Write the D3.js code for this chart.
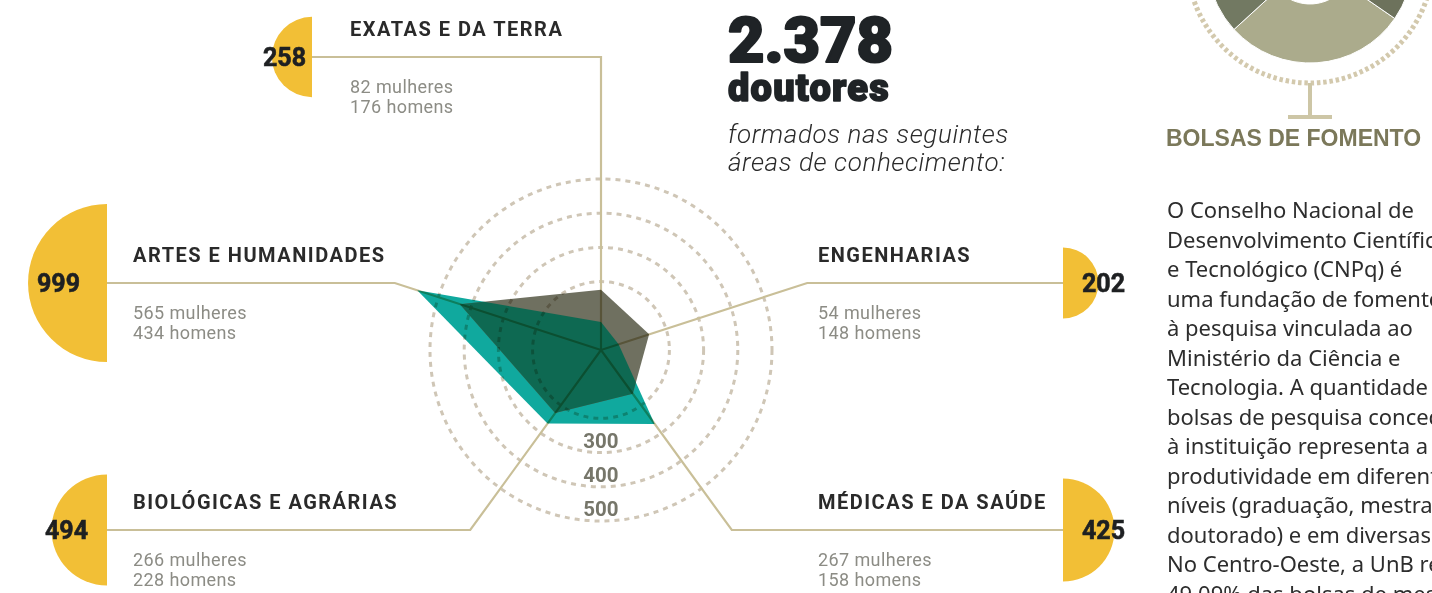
<!DOCTYPE html>
<html>
<head>
<meta charset="utf-8">
<script src="https://cdn.jsdelivr.net/npm/d3@7"></script>
<style>
body { margin: 0; background: #fff; overflow: hidden; }
svg { display: block; isolation: isolate; }
</style>
</head>
<body>
<div id="chart"></div>
<script>
// dados
var areas = ["EXATAS E DA TERRA", "ENGENHARIAS", "MÉDICAS E DA SAÚDE", "BIOLÓGICAS E AGRÁRIAS", "ARTES E HUMANIDADES"];
var mulheres = [82, 54, 267, 266, 565];
var homens = [176, 148, 158, 228, 434];
var totais = [258, 202, 425, 494, 999];
var aneis = [200, 300, 400, 500];
var rotulosAneis = [300, 400, 500];
var totalDoutores = "2.378";
var bolsasFatias = [28.6, 36.4, 35.0];
var textoBolsas = [
    "O Conselho Nacional de",
    "Desenvolvimento Científico",
    "e Tecnológico (CNPq) é",
    "uma fundação de fomento",
    "à pesquisa vinculada ao",
    "Ministério da Ciência e",
    "Tecnologia. A quantidade de",
    "bolsas de pesquisa concedidas",
    "à instituição representa a",
    "produtividade em diferentes",
    "níveis (graduação, mestrado e",
    "doutorado) e em diversas áreas.",
    "No Centro-Oeste, a UnB recebe",
    "49,09% das bolsas de mestrado"
];

var width = 1432, height = 593;
var cx = 601, cy = 350;

// posicao de cada eixo (linha de chamada + semicirculo)
var layout = [
    { elbowY: 57,  endX: 312,  side: "left",  labelX: 350, numX: 306,  numAnchor: "end" },
    { elbowY: 283, endX: 1063, side: "right", labelX: 818, numX: 1082, numAnchor: "start" },
    { elbowY: 530, endX: 1063, side: "right", labelX: 818, numX: 1082, numAnchor: "start" },
    { elbowY: 530, endX: 107,  side: "left",  labelX: 133, numX: 45,   numAnchor: "start" },
    { elbowY: 283, endX: 107,  side: "left",  labelX: 133, numX: 37,   numAnchor: "start" }
];

var svg = d3.select("#chart")
    .append("svg")
    .attr("width", width)
    .attr("height", height);

var rScale = d3.scaleLinear().domain([0, 500]).range([0, 171]);
var sizeScale = d3.scaleSqrt().domain([0, 1000]).range([0, 79]);
var angle = d3.scaleLinear().domain([0, areas.length]).range([0, 2 * Math.PI]);

var radar = svg.append("g")
    .attr("transform", "translate(" + cx + "," + cy + ")");

var line = d3.lineRadial()
    .angle(function(d, i) { return angle(i); })
    .radius(function(d) { return rScale(d); })
    .curve(d3.curveLinearClosed);

// poligonos
radar.append("path")
    .attr("d", line(mulheres))
    .attr("fill", "#10a99e");
radar.append("path")
    .attr("d", line(homens))
    .attr("fill", "#6f7060");

radar.append("clipPath")
    .attr("id", "clipHomens")
    .append("path")
    .attr("d", line(homens));
radar.append("path")
    .attr("d", line(mulheres))
    .attr("clip-path", "url(#clipHomens)")
    .attr("fill", "#0e6952");

// aneis e eixos por cima, em multiply
var grid = svg.append("g")
    .style("mix-blend-mode", "multiply");

grid.selectAll("circle.ring")
    .data(aneis)
    .enter()
    .append("circle")
    .attr("class", "ring")
    .attr("cx", cx)
    .attr("cy", cy)
    .attr("r", function(d) { return rScale(d); })
    .attr("fill", "none")
    .attr("stroke", "#cfc6b6")
    .attr("stroke-width", 3)
    .attr("stroke-dasharray", "5,5");

grid.selectAll("path.axis")
    .data(areas)
    .enter()
    .append("path")
    .attr("class", "axis")
    .attr("fill", "none")
    .attr("stroke", "#c9bf98")
    .attr("stroke-width", 2.2)
    .attr("d", function(d, i) {
        var a = angle(i);
        var L = layout[i];
        var t = (L.elbowY - cy) / (-Math.cos(a));
        var ex = cx + t * Math.sin(a);
        return "M" + cx + "," + cy + "L" + ex + "," + L.elbowY + "L" + L.endX + "," + L.elbowY;
    });

// rotulos dos aneis
svg.selectAll("text.ringLabel")
    .data(rotulosAneis)
    .enter()
    .append("text")
    .attr("class", "ringLabel")
    .attr("x", cx)
    .attr("y", function(d) { return cy + rScale(d) - 5; })
    .attr("text-anchor", "middle")
    .attr("font-family", "Roboto, 'Liberation Sans', sans-serif")
    .attr("font-weight", 700)
    .attr("font-size", 20.5)
    .attr("fill", "#76766a")
    .text(function(d) { return d; });

// semicirculos amarelos
var arc = d3.arc().innerRadius(0);
svg.selectAll("path.total")
    .data(totais)
    .enter()
    .append("path")
    .attr("class", "total")
    .attr("transform", function(d, i) {
        return "translate(" + layout[i].endX + "," + layout[i].elbowY + ")";
    })
    .attr("fill", "#f2bf36")
    .attr("d", function(d, i) {
        var left = layout[i].side == "left";
        return arc({
            outerRadius: sizeScale(d),
            startAngle: left ? Math.PI : 0,
            endAngle: left ? 2 * Math.PI : Math.PI
        });
    });

svg.selectAll("text.total")
    .data(totais)
    .enter()
    .append("text")
    .attr("class", "total")
    .attr("x", function(d, i) { return layout[i].numX; })
    .attr("y", function(d, i) { return layout[i].elbowY + 9; })
    .attr("text-anchor", function(d, i) { return layout[i].numAnchor; })
    .attr("font-family", "Roboto, 'Liberation Sans', sans-serif")
    .attr("font-weight", 700)
    .attr("font-size", 25)
    .attr("fill", "#1e2022")
    .attr("stroke", "#1e2022")
    .attr("stroke-width", 0.6)
    .text(function(d) { return d; });

// nomes das areas
var labels = svg.selectAll("g.label")
    .data(areas)
    .enter()
    .append("g")
    .attr("class", "label")
    .attr("transform", function(d, i) {
        return "translate(" + layout[i].labelX + "," + layout[i].elbowY + ")";
    });

labels.append("text")
    .attr("y", -21)
    .attr("font-family", "Roboto, 'Liberation Sans', sans-serif")
    .attr("font-weight", 700)
    .attr("font-size", 20)
    .attr("letter-spacing", 1.5)
    .attr("fill", "#2a2a2a")
    .text(function(d) { return d; });

labels.append("text")
    .attr("y", 36)
    .attr("font-family", "Roboto, 'Liberation Sans', sans-serif")
    .attr("font-size", 18)
    .attr("letter-spacing", 0.4)
    .attr("fill", "#8c8c85")
    .text(function(d, i) { return mulheres[i] + " mulheres"; });

labels.append("text")
    .attr("y", 56)
    .attr("font-family", "Roboto, 'Liberation Sans', sans-serif")
    .attr("font-size", 18)
    .attr("letter-spacing", 0.4)
    .attr("fill", "#8c8c85")
    .text(function(d, i) { return homens[i] + " homens"; });

// titulo
var title = svg.append("g").attr("transform", "translate(728,0)");
title.append("text")
    .attr("y", 62)
    .attr("font-family", "Roboto, sans-serif")
    .attr("font-weight", 900)
    .attr("font-size", 63)
    .attr("fill", "#1f2326")
    .attr("stroke", "#1f2326")
    .attr("stroke-width", 2.2)
    .attr("stroke-linejoin", "round")
    .text(totalDoutores);
title.append("text")
    .attr("y", 101)
    .attr("font-family", "Roboto, sans-serif")
    .attr("font-weight", 900)
    .attr("font-size", 38)
    .attr("letter-spacing", 1.2)
    .attr("fill", "#1f2326")
    .attr("stroke", "#1f2326")
    .attr("stroke-width", 1.6)
    .attr("stroke-linejoin", "round")
    .text("doutores");
title.append("text")
    .attr("y", 143)
    .attr("font-family", "Roboto, sans-serif")
    .attr("font-style", "italic")
    .attr("font-weight", 300)
    .attr("font-size", 26)
    .attr("letter-spacing", 0.6)
    .attr("fill", "#2a2a2a")
    .text("formados nas seguintes");
title.append("text")
    .attr("y", 171)
    .attr("font-family", "Roboto, sans-serif")
    .attr("font-style", "italic")
    .attr("font-weight", 300)
    .attr("font-size", 26)
    .attr("letter-spacing", 0.6)
    .attr("fill", "#2a2a2a")
    .text("áreas de conhecimento:");

// painel lateral: bolsas de fomento
var pcx = 1310, pcy = -40;
var pie = d3.pie().sort(null).startAngle(124.6 * Math.PI / 180).endAngle(124.6 * Math.PI / 180 + 2 * Math.PI);
var pieColors = ["#abab8c", "#727962", "#6d725c"];
var pieArc = d3.arc().innerRadius(44).outerRadius(103);

var side = svg.append("g");
side.append("g")
    .attr("transform", "translate(" + pcx + "," + pcy + ")")
    .selectAll("path")
    .data(pie(bolsasFatias))
    .enter()
    .append("path")
    .attr("d", pieArc)
    .attr("fill", function(d, i) { return pieColors[i]; })
    .attr("stroke", "#fff")
    .attr("stroke-width", 1);

side.append("circle")
    .attr("cx", pcx)
    .attr("cy", pcy)
    .attr("r", 123)
    .attr("fill", "none")
    .attr("stroke", "#d3c9ad")
    .attr("stroke-width", 5)
    .attr("stroke-dasharray", "3.5,2.8");

side.append("line")
    .attr("x1", pcx).attr("x2", pcx)
    .attr("y1", pcy + 123).attr("y2", 118)
    .attr("stroke", "#cdc6a6")
    .attr("stroke-width", 4);
side.append("line")
    .attr("x1", pcx - 22).attr("x2", pcx + 22)
    .attr("y1", 117).attr("y2", 117)
    .attr("stroke", "#cdc6a6")
    .attr("stroke-width", 4);

side.append("text")
    .attr("x", 1166)
    .attr("y", 146)
    .attr("font-family", "'Liberation Sans', Arial, sans-serif")
    .attr("font-weight", 700)
    .attr("font-size", 23)
    .attr("fill", "#7b785a")
    .text("BOLSAS DE FOMENTO");

side.selectAll("text.body")
    .data(textoBolsas)
    .enter()
    .append("text")
    .attr("class", "body")
    .attr("x", 1167)
    .attr("y", function(d, i) { return 218 + i * 29.5; })
    .attr("font-family", "'Noto Sans', sans-serif")
    .attr("font-size", 22)
    .attr("fill", "#2d2d2d")
    .text(function(d) { return d; });
</script>
</body>
</html>
